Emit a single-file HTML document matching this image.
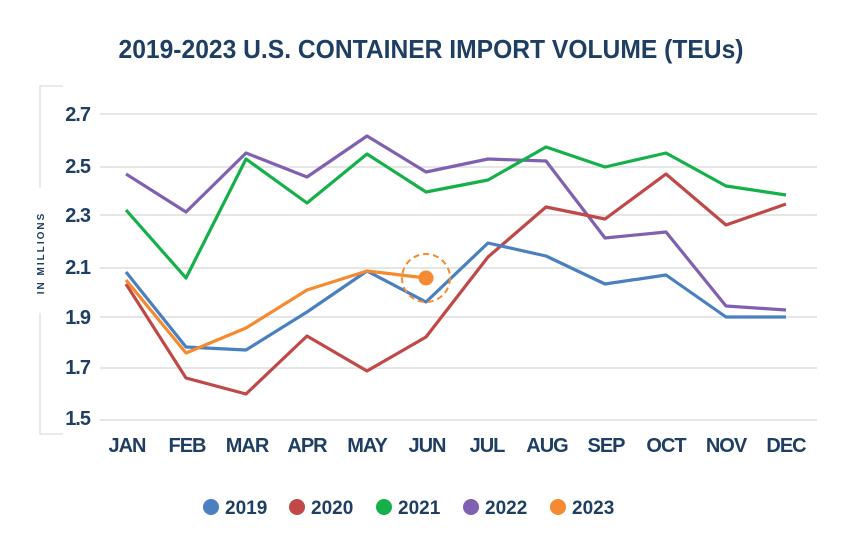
<!DOCTYPE html>
<html><head><style>body{margin:0;background:#fff}</style></head><body>
<svg width="854" height="548" xmlns="http://www.w3.org/2000/svg" font-family="Liberation Sans, sans-serif" font-weight="bold">
<text x="431" y="58" text-anchor="middle" font-size="26" fill="#1f3e63" textLength="625" lengthAdjust="spacingAndGlyphs">2019-2023 U.S. CONTAINER IMPORT VOLUME (TEUs)</text>
<g stroke="#e6e6e6" stroke-width="2">
<line x1="100" y1="114" x2="817" y2="114"/><line x1="100" y1="167" x2="817" y2="167"/><line x1="100" y1="215" x2="817" y2="215"/><line x1="100" y1="268" x2="817" y2="268"/><line x1="100" y1="317" x2="817" y2="317"/><line x1="100" y1="368" x2="817" y2="368"/><line x1="100" y1="420" x2="817" y2="420"/>
</g>
<path d="M63 86 H40 V188 M40 313 V434 H63" fill="none" stroke="#e3e3e3" stroke-width="1.5"/>
<text transform="translate(44,253) rotate(-90)" text-anchor="middle" font-size="10" fill="#1f3e63" letter-spacing="2">IN MILLIONS</text>
<g font-size="20" fill="#1f3e63" text-anchor="end" letter-spacing="-1">
<text x="90" y="121">2.7</text><text x="90" y="173">2.5</text><text x="90" y="222">2.3</text><text x="90" y="274">2.1</text><text x="90" y="324">1.9</text><text x="90" y="374">1.7</text><text x="90" y="425">1.5</text>
</g>
<g font-size="20" fill="#1f3e63" text-anchor="middle" letter-spacing="-1">
<text x="127" y="452">JAN</text><text x="187" y="452">FEB</text><text x="247" y="452">MAR</text><text x="307" y="452">APR</text><text x="367" y="452">MAY</text><text x="427" y="452">JUN</text><text x="487" y="452">JUL</text><text x="547" y="452">AUG</text><text x="606" y="452">SEP</text><text x="666" y="452">OCT</text><text x="726" y="452">NOV</text><text x="786" y="452">DEC</text>
</g>
<g fill="none" stroke-width="3.2" stroke-linejoin="round">
<polyline stroke="#8060b0" points="126,174 186,212 246,153 307,177 367,136 426,172 488,159 546,161 605,238 666,232 726,306 786,310"/>
<polyline stroke="#15b04a" points="126,210 186,278 246,159 307,203 367,154 426,192 488,180 546,147 605,167 666,153 726,186 786,195"/>
<polyline stroke="#c04848" points="126,284 186,378 246,394 307,336 367,371 426,337 488,257 546,207 605,219 666,174 726,225 786,204"/>
<polyline stroke="#4a7fc0" points="126,272 186,347 246,350 307,312 367,271 426,302 488,243 546,256 605,284 666,275 726,317 786,317"/>
<polyline stroke="#f58a30" points="126,280 186,353 246,328 307,290 367,271 426,278"/>
</g>
<circle cx="426" cy="278" r="7.5" fill="#f58a30"/>
<circle cx="426" cy="278" r="24" fill="none" stroke="#f58a30" stroke-width="2" stroke-dasharray="6,4"/>
<g font-size="19" fill="#1f3e63">
<circle cx="211" cy="507" r="8" fill="#4a7fc0"/><text x="225" y="514">2019</text>
<circle cx="297" cy="507" r="8" fill="#c04848"/><text x="311" y="514">2020</text>
<circle cx="384" cy="507" r="8" fill="#15b04a"/><text x="398" y="514">2021</text>
<circle cx="471" cy="507" r="8" fill="#8060b0"/><text x="485" y="514">2022</text>
<circle cx="558" cy="507" r="8" fill="#f58a30"/><text x="572" y="514">2023</text>
</g>
</svg>
</body></html>
